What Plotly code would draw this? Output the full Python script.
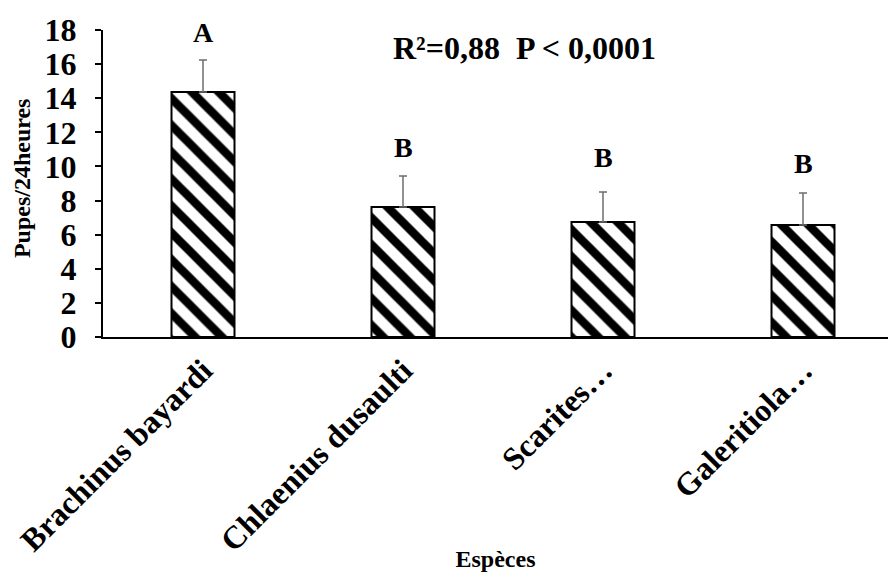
import plotly.graph_objects as go

species = ["Brachinus bayardi", "Chlaenius dusaulti", "Scarites…", "Galeritiola…"]
means = [14.36, 7.62, 6.74, 6.56]
errors = [1.88, 1.82, 1.76, 1.88]
letters = ["A", "B", "B", "B"]
letter_y = [17.85, 11.1, 10.5, 10.2]
y_ticks = [0, 2, 4, 6, 8, 10, 12, 14, 16, 18]
stat_text = "R²=0,88  P < 0,0001"

FONT = "Liberation Serif"
x = list(range(len(species)))

fig = go.Figure()
fig.add_trace(go.Bar(
    x=x, y=means, width=0.315,
    marker=dict(color="white", line=dict(color="black", width=2),
                pattern=dict(shape="\\", fgcolor="black", bgcolor="white", fgopacity=1,
                             fillmode="replace", size=19, solidity=0.45)),
    error_y=dict(type="data", array=errors, symmetric=False, arrayminus=[0]*len(errors),
                 color="#6e6e6e", thickness=1.5, width=4),
    showlegend=False,
))

for xi, yi, t in zip(x, letter_y, letters):
    fig.add_annotation(x=xi, y=yi, text=f"<b>{t}</b>", showarrow=False,
                       font=dict(family=FONT, size=28, color="black"))

fig.add_annotation(x=1.605, y=1.0065, xref="x", yref="paper", text=f"<b>{stat_text}</b>",
                   showarrow=False, font=dict(family=FONT, size=32, color="black"))

fig.add_annotation(x=-0.103, y=0.518, xref="paper", yref="paper", text="<b>Pupes/24heures</b>",
                   xanchor="center", yanchor="middle",
                   textangle=-90, showarrow=False, font=dict(family=FONT, size=24, color="black"))

fig.update_layout(
    width=888, height=572,
    margin=dict(l=103, r=0, t=30, b=235),
    paper_bgcolor="white", plot_bgcolor="white",
    font=dict(family=FONT, color="black"),
    xaxis=dict(range=[-0.5, 3.425], tickmode="array", tickvals=x,
               ticktext=[f"<b>{s}</b>" for s in species],
               tickangle=-45, tickfont=dict(family=FONT, size=32, color="black"),
               showline=True, linecolor="black", linewidth=2, ticks="",
               showgrid=False, zeroline=False, automargin=False,
               title=dict(text="<b>Espèces</b>", font=dict(family=FONT, size=24, color="black"), standoff=5)),
    yaxis=dict(range=[0, 18], tickmode="array", tickvals=y_ticks,
               ticktext=[f"<b>{v}</b>" for v in y_ticks],
               tickfont=dict(family=FONT, size=32, color="black"),
               showline=True, linecolor="black", linewidth=2, ticks="outside", ticklen=6,
               ticklabelstandoff=12, automargin=False,
               tickcolor="black", tickwidth=2, showgrid=False, zeroline=False),
)

fig.write_html("out.html")
